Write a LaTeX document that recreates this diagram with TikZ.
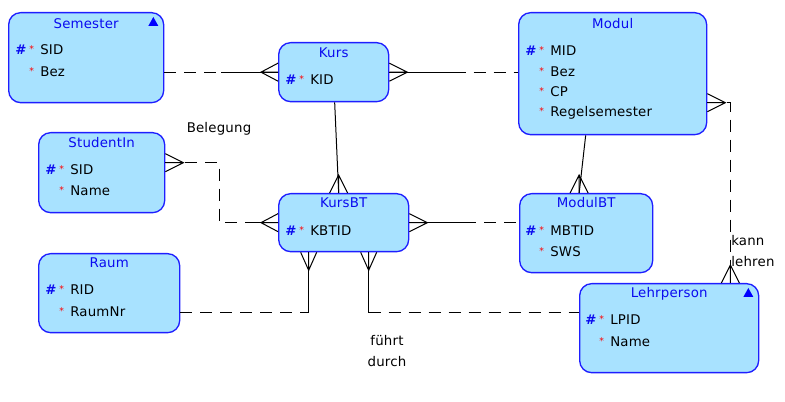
\documentclass[tikz,border=0pt]{standalone}
\usepackage{fontspec}
\setmainfont{DejaVu Sans}[LetterSpace=1.5]
\usetikzlibrary{calc}
\definecolor{entfill}{RGB}{168,226,255}
\definecolor{entdraw}{RGB}{30,30,255}
\definecolor{titleblue}{RGB}{10,10,240}
\newcommand\astmark{\textcolor{red}{\raisebox{1.6pt}{\fontsize{7}{7}\selectfont *}}}
\newcommand\pkmark{\makebox[10.5pt][l]{\textcolor{titleblue}{\bfseries\#}}\makebox[8.25pt][l]{\astmark}}
\newcommand\nkmark{\hspace{10.5pt}\makebox[8.25pt][l]{\astmark}}
\tikzset{
  ent/.style={draw=entdraw, fill=entfill, line width=1pt, rounded corners=9pt, rectangle, anchor=north west, inner sep=0pt},
  ttl/.style={text=titleblue, font=\fontsize{10}{11}\selectfont, inner sep=0pt},
  attr/.style={anchor=west, font=\fontsize{10}{11}\selectfont, inner sep=0pt},
  lbl/.style={font=\fontsize{10}{16}\selectfont, inner sep=0pt},
  rel/.style={line width=0.75pt, black},
  opt/.style={rel, dash pattern=on 9pt off 6pt},
  crowW/.pic={\draw[rel] (0,-9) -- (-17,0) -- (0,9) (0,0) -- (-17,0);},
  crowE/.pic={\draw[rel] (0,-9) -- (18,0) -- (0,9) (0,0) -- (18,0);},
  crowN/.pic={\draw[rel] (-9,0) -- (0,-18) -- (9,0) (0,0) -- (0,-18);},
  crowS/.pic={\draw[rel] (-8,0) -- (0,18) -- (8,0) (0,0) -- (0,18);},
  tri/.style={fill=blue}
}
\begin{document}
\begin{tikzpicture}[x=0.75pt,y=-0.75pt]
\useasboundingbox (0,0) rectangle (785,402);
% entities
\node[ent, minimum width=116.25pt, minimum height=67.5pt] (sem) at (8,12) {};
\node[ent, minimum width=82.5pt, minimum height=44.25pt] (kurs) at (278,42) {};
\node[ent, minimum width=141pt, minimum height=91.5pt] (modul) at (518,12) {};
\node[ent, minimum width=94.5pt, minimum height=60pt] (stud) at (38,132) {};
\node[ent, minimum width=97.5pt, minimum height=43.5pt] (kursbt) at (278,193) {};
\node[ent, minimum width=99.75pt, minimum height=59.25pt] (modulbt) at (519,193) {};
\node[ent, minimum width=105.75pt, minimum height=59.25pt] (raum) at (38,253) {};
\node[ent, minimum width=134.25pt, minimum height=66.75pt] (lehr) at (579,283) {};
% titles
\node[ttl] (semT) at ($(sem.north)+(0,12)$) {Semester};
\node[ttl] (kursT) at ($(kurs.north)+(0,11)$) {Kurs};
\node[ttl] (modulT) at ($(modul.north)+(0,12)$) {Modul};
\node[ttl] (studT) at ($(stud.north)+(0,11)$) {StudentIn};
\node[ttl] (kursbtT) at ($(kursbt.north)+(0,10)$) {KursBT};
\node[ttl] (modulbtT) at ($(modulbt.north)+(0,10)$) {ModulBT};
\node[ttl] (raumT) at ($(raum.north)+(0,10)$) {Raum};
\node[ttl] (lehrT) at ($(lehr.north)+(0,11)$) {Lehrperson};
% corner triangles
\fill[tri] ($(sem.north east)+(-11,5)$) -- ($(sem.north east)+(-6,14)$) -- ($(sem.north east)+(-16,14)$) -- cycle;
\fill[tri] ($(lehr.north east)+(-11,5)$) -- ($(lehr.north east)+(-6,14)$) -- ($(lehr.north east)+(-16,14)$) -- cycle;
% attributes
\node[attr] (sem1) at ($(sem.north west)+(7,38)$) {\pkmark SID};
\node[attr] (sem2) at ($(sem.north west)+(7,60)$) {\nkmark Bez};
\node[attr] (kurs1) at ($(kurs.north west)+(7,38)$) {\pkmark KID};
\node[attr] (modul1) at ($(modul.north west)+(7,39)$) {\pkmark MID};
\node[attr] (modul2) at ($(modul.north west)+(7,60)$) {\nkmark Bez};
\node[attr] (modul3) at ($(modul.north west)+(7,80)$) {\nkmark CP};
\node[attr] (modul4) at ($(modul.north west)+(7,101)$) {\nkmark Regelsemester};
\node[attr] (stud1) at ($(stud.north west)+(7,38)$) {\pkmark SID};
\node[attr] (stud2) at ($(stud.north west)+(7,59)$) {\nkmark Name};
\node[attr] (kursbt1) at ($(kursbt.north west)+(7,38)$) {\pkmark KBTID};
\node[attr] (modulbt1) at ($(modulbt.north west)+(6,38)$) {\pkmark MBTID};
\node[attr] (modulbt2) at ($(modulbt.north west)+(6,59)$) {\nkmark SWS};
\node[attr] (raum1) at ($(raum.north west)+(7,37)$) {\pkmark RID};
\node[attr] (raum2) at ($(raum.north west)+(7,59)$) {\nkmark RaumNr};
\node[attr] (lehr1) at ($(lehr.north west)+(6,37)$) {\pkmark LPID};
\node[attr] (lehr2) at ($(lehr.north west)+(6,59)$) {\nkmark Name};
% Semester -- Kurs
\coordinate (m1) at ($(sem.east |- kurs.west)!0.5!(kurs.west)$);
\draw[opt] (sem.east |- kurs.west) -- (m1);
\draw[rel] (m1) -- (kurs.west);
\pic at (kurs.west) {crowW};
% Kurs -- Modul
\coordinate (m2) at ($(kurs.east)!0.5!(modul.west |- kurs.east)$);
\draw[rel] (kurs.east) -- (m2);
\draw[opt] (m2) -- (modul.west |- kurs.east);
\pic at (kurs.east) {crowE};
% Kurs -- KursBT
\draw[rel] ($(kurs.south)+(1,0)$) -- ($(kursbt.north)+(-5,0)$);
\pic at ($(kursbt.north)+(-5,0)$) {crowN};
% StudentIn -- KursBT (Belegung)
\coordinate (s0) at ($(stud.east)+(0,-10)$);
\coordinate (s1) at ($(stud.east)+(54,-10)$);
\coordinate (s2) at ($(kursbt.west)+(-28,0)$);
\draw[opt] (s0) -- (s1) |- (s2);
\draw[rel] (s2) -- (kursbt.west);
\pic at (s0) {crowE};
\pic at (kursbt.west) {crowW};
\node[lbl] (bel) at (219,129) {Belegung};
% KursBT -- ModulBT
\coordinate (m3) at ($(kursbt.east)!0.5!(modulbt.west |- kursbt.east)$);
\draw[rel] (kursbt.east) -- (m3);
\draw[opt] (m3) -- (modulbt.west |- kursbt.east);
\pic at (kursbt.east) {crowE};
% Modul -- ModulBT
\draw[rel] ($(modul.south)+(-27,0)$) -- ($(modulbt.north)+(-7,0)$);
\pic at ($(modulbt.north)+(-7,0)$) {crowN};
% Modul -- Lehrperson (kann lehren)
\coordinate (k0) at ($(modul.east)+(0,29)$);
\coordinate (k1) at ($(lehr.north east)+(-29,0)$);
\draw[opt] (k0) -| (k1);
\pic at (k0) {crowE};
\pic at (k1) {crowN};
\node[lbl, anchor=west, align=left] (kann) at (731,251) {kann\\lehren};
% Raum -- KursBT
\coordinate (r0) at ($(raum.east)+(0,19.5)$);
\coordinate (r1) at ($(kursbt.south)+(-35,0)$);
\draw[opt] (r0) -- (r1 |- r0);
\draw[rel] (r1 |- r0) -- (r1);
\pic at (r1) {crowS};
% KursBT -- Lehrperson (fuehrt durch)
\coordinate (l0) at ($(lehr.west)+(0,-15.5)$);
\coordinate (l1) at ($(kursbt.south)+(25,0)$);
\draw[rel] (l1) -- (l1 |- l0);
\draw[opt] (l1 |- l0) -- (l0);
\pic at (l1) {crowS};
\node[lbl, align=center] (fd) at (387,351) {führt\\durch};
\end{tikzpicture}
\end{document}
